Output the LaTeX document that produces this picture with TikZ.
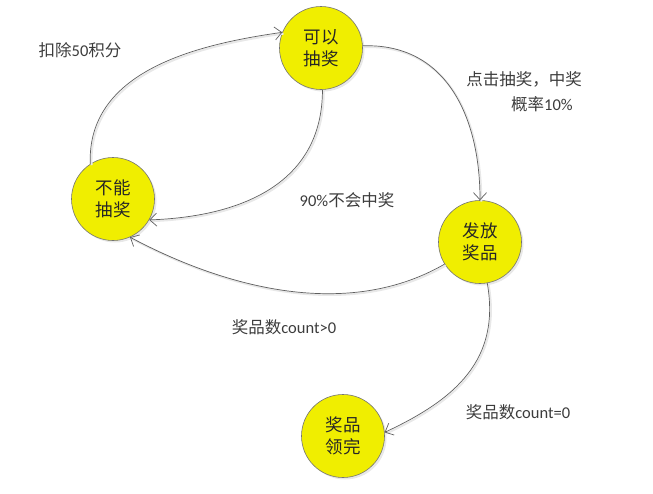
\documentclass[tikz,border=0pt]{standalone}
\usepackage{fontspec}
\setmainfont{Carlito}
\newfontfamily\cjk{Noto Sans CJK SC}
\usetikzlibrary{arrows.meta,shadows}
\definecolor{stateyellow}{RGB}{240,238,0}
\definecolor{edgegray}{RGB}{95,95,95}
\definecolor{labelgray}{RGB}{60,60,60}
\tikzset{
  state/.style={circle, minimum size=83pt, inner sep=0pt, fill=stateyellow, draw=gray!90!black, line width=0.6pt,
    drop shadow={shadow xshift=2pt, shadow yshift=-2pt, fill=gray!35},
    align=center, font=\cjk\fontsize{17.5}{22}\selectfont, text=black!85},
  edge/.style={draw=edgegray, line width=0.7pt, -{Straight Barb[length=7pt,width=13pt]},
    preaction={draw=gray!18, line width=2pt, -, transform canvas={shift={(1.3pt,-1.3pt)}}}},
  lbl/.style={font=\fontsize{16.5}{20}\selectfont, text=labelgray, align=center, inner sep=0pt}
}
\begin{document}
\begin{tikzpicture}[x=1pt,y=1pt]
\useasboundingbox (0,0) rectangle (653,-493);
\node[state] (A) at (321,-48) {可以\\抽奖};
\node[state] (B) at (113,-199) {不能\\抽奖};
\node[state] (C) at (480,-242) {发放\\奖品};
\node[state] (D) at (343,-436) {奖品\\领完};

\draw[edge] (B.123) to[out=92,in=188,looseness=1.0] (A.158);
\draw[edge] (A.-88) to[out=-90,in=2,looseness=1.1] (B.-30);
\draw[edge] (A.3) to[out=2,in=90,looseness=1.1] (C.90);
\draw[edge] (C.212) to[out=210,in=-28,looseness=0.9] (B.-66);
\draw[edge] (C.-80) to[out=-80,in=25,looseness=1.1] (D.5);

\node[lbl] (l1) at (80,-50) {{\cjk 扣除}50{\cjk 积分}};
\node[lbl] (l2) at (524,-79) {\cjk 点击抽奖，中奖};
\node[lbl] (l3) at (542,-104) {{\cjk 概率}10\%};
\node[lbl] (l4) at (347,-200) {90\%{\cjk 不会中奖}};
\node[lbl] (l5) at (284,-327) {{\cjk 奖品数}count\textgreater0};
\node[lbl] (l6) at (518,-412) {{\cjk 奖品数}count=0};
\end{tikzpicture}
\end{document}
